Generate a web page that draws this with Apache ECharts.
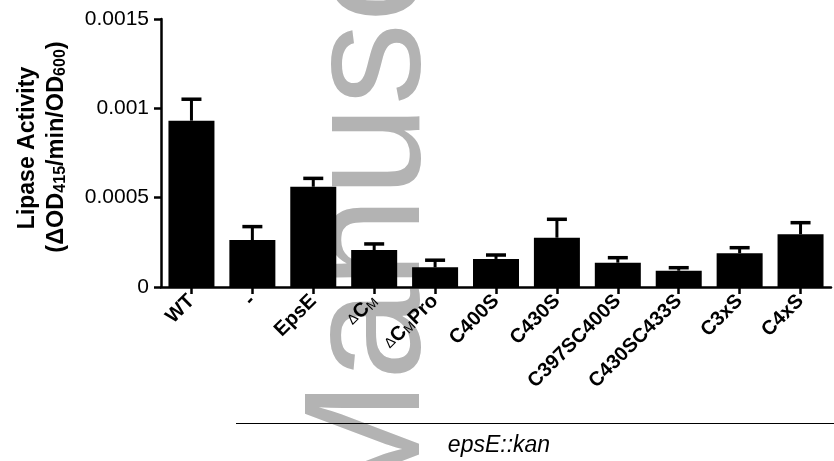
<!DOCTYPE html>
<html>
<head>
<meta charset="utf-8">
<script src="https://cdn.jsdelivr.net/npm/echarts@6/dist/echarts.min.js"></script>
<style>
html,body{margin:0;padding:0;background:#fff;}
#chart{width:834px;height:461px;}
</style>
</head>
<body>
<div id="chart"></div>
<script>
var categories = ['WT', '-', 'EpsE', 'ΔCM', 'ΔCMPro', 'C400S', 'C430S', 'C397SC400S', 'C430SC433S', 'C3xS', 'C4xS'];
var activity = [0.000931, 0.000263, 0.000561, 0.000207, 0.000110, 0.000157, 0.000276, 0.000136, 0.000091, 0.000189, 0.000295];
var errors   = [0.000120, 0.000075, 0.000047, 0.000034, 0.000040, 0.000022, 0.000103, 0.000028, 0.000017, 0.000031, 0.000065];
var yTickLabels = ['0', '0.0005', '0.001', '0.0015'];
var groupLabel = 'epsE::kan';
var watermark = 'Manuscript';

var FONT = '"Liberation Sans", Arial, Helvetica, sans-serif';
var chart = echarts.init(document.getElementById('chart'));

var errData = categories.map(function (c, i) { return [i, activity[i], errors[i]]; });

var option = {
  animation: false,
  backgroundColor: '#fff',
  textStyle: { fontFamily: FONT },
  grid: { left: 161, width: 670, top: 19, bottom: 174, containLabel: false },
  xAxis: {
    type: 'category',
    data: categories,
    axisLine: { lineStyle: { color: '#000', width: 2.5 } },
    axisTick: { show: true, alignWithLabel: true, length: 7, lineStyle: { color: '#000', width: 2.5 } },
    axisLabel: {
      rotate: 45, margin: 11, color: '#000', fontSize: 20, fontWeight: 'bold', fontFamily: FONT,
      interval: 0,
      formatter: function (v) {
        if (v === 'ΔCM') return '{d|Δ}{b|C}{m|M}';
        if (v === 'ΔCMPro') return '{d|Δ}{b|C}{m|M}{b|Pro}';
        return v;
      },
      rich: {
        d: { fontSize: 14, fontWeight: 'normal', color: '#000', fontFamily: FONT },
        b: { fontSize: 20, fontWeight: 'bold', color: '#000', fontFamily: FONT },
        m: { fontSize: 13, fontWeight: 'normal', color: '#000', fontFamily: FONT, verticalAlign: 'bottom' }
      }
    }
  },
  yAxis: {
    type: 'value',
    min: 0, max: 0.0015, interval: 0.0005,
    axisLine: { show: true, lineStyle: { color: '#000', width: 2.5 } },
    axisTick: { show: true, length: 7, lineStyle: { color: '#000', width: 2.5 } },
    splitLine: { show: false },
    axisLabel: {
      color: '#000', fontSize: 21, fontFamily: FONT, margin: 12,
      formatter: function (v) {
        var idx = Math.round(v / 0.0005);
        return yTickLabels[idx] !== undefined ? yTickLabels[idx] : '';
      }
    }
  },
  series: [
    {
      type: 'bar',
      data: activity,
      barWidth: 46,
      itemStyle: { color: '#000' },
      z: 3
    },
    {
      type: 'custom',
      data: errData,
      z: 4,
      renderItem: function (params, api) {
        var idx = api.value(0);
        var v = api.value(1);
        var e = api.value(2);
        var p0 = api.coord([idx, v]);
        var p1 = api.coord([idx, v + e]);
        return {
          type: 'group',
          children: [
            { type: 'line', shape: { x1: p0[0], y1: p0[1], x2: p1[0], y2: p1[1] }, style: { stroke: '#000', lineWidth: 3 } },
            { type: 'line', shape: { x1: p1[0] - 10, y1: p1[1], x2: p1[0] + 10, y2: p1[1] }, style: { stroke: '#000', lineWidth: 3.5 } }
          ]
        };
      }
    }
  ],
  graphic: [
    {
      type: 'text', z: -10, x: 373, y: 518, rotation: Math.PI / 2,
      style: { text: watermark, font: '165px ' + FONT, fill: '#b3b3b3', align: 'left', verticalAlign: 'middle' }
    },
    {
      type: 'text', x: 28, y: 148, rotation: Math.PI / 2,
      style: { text: 'Lipase Activity', font: 'bold 23px ' + FONT, fill: '#000', align: 'center', verticalAlign: 'middle' }
    },
    {
      type: 'text', x: 57, y: 147, rotation: Math.PI / 2,
      style: {
        text: '{a|(ΔOD}{s|415}{a|/min/OD}{s|600}{a|)}',
        align: 'center', verticalAlign: 'middle',
        rich: {
          a: { fontSize: 23.5, fontWeight: 'bold', fontFamily: FONT, fill: '#000', color: '#000' },
          s: { fontSize: 16, fontWeight: 'bold', fontFamily: FONT, fill: '#000', color: '#000', verticalAlign: 'bottom' }
        }
      }
    },
    {
      type: 'line', shape: { x1: 236, y1: 423.5, x2: 834, y2: 423.5 }, style: { stroke: '#000', lineWidth: 1 }
    },
    {
      type: 'text', x: 499, y: 446,
      style: { text: groupLabel, font: 'italic 23px ' + FONT, fill: '#000', align: 'center', verticalAlign: 'middle' }
    }
  ]
};
chart.setOption(option);
</script>
</body>
</html>
